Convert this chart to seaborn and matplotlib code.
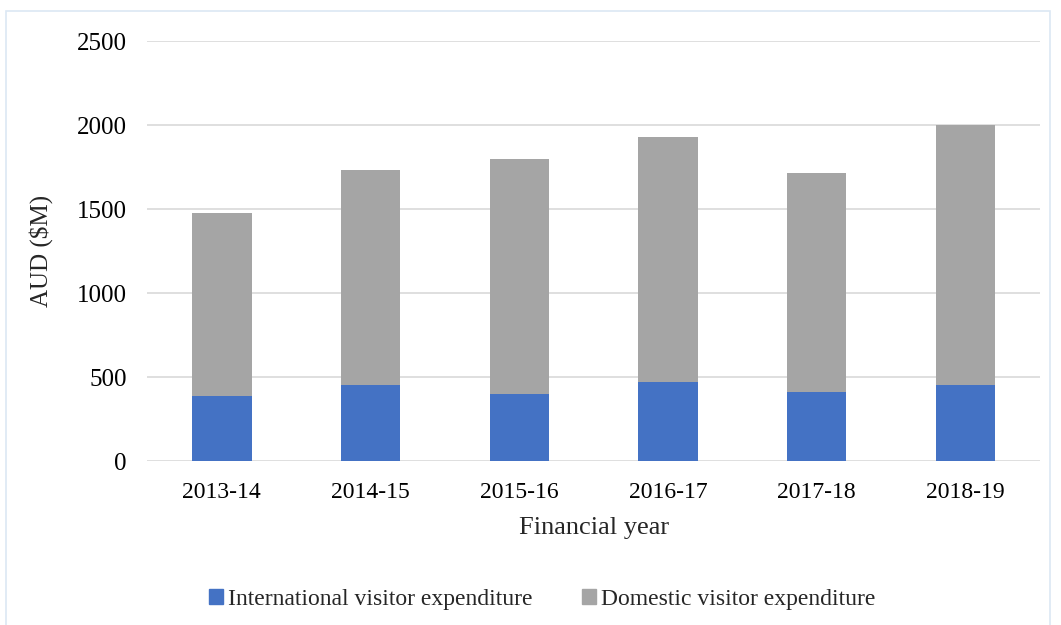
import pandas as pd
import matplotlib.pyplot as plt
import seaborn as sns
from matplotlib.patches import Rectangle, Patch

# data (AUD $M)
years = ["2013-14", "2014-15", "2015-16", "2016-17", "2017-18", "2018-19"]
international = [388, 452, 400, 470, 412, 452]
domestic = [1090, 1279, 1400, 1461, 1305, 1548]

df = pd.DataFrame({"year": years, "intl": international, "dom": domestic})
df["total"] = df["intl"] + df["dom"]

sns.set_style("white")
plt.rcParams["font.family"] = ["Liberation Serif", "DejaVu Serif"]

blue = "#4472C4"
grey = "#A5A5A5"

fig = plt.figure(figsize=(10.61, 6.25), dpi=100)
ax = fig.add_axes([0.139, 0.262, 0.841, 0.672])

# stacked bars: draw totals in grey, then international on top in blue
sns.barplot(data=df, x="year", y="total", color=grey, width=0.4, saturation=1,
            linewidth=0, ax=ax, zorder=2)
sns.barplot(data=df, x="year", y="intl", color=blue, width=0.4, saturation=1,
            linewidth=0, ax=ax, zorder=3)

ax.set_ylim(0, 2500)
ax.set_yticks(range(0, 2501, 500))
ax.set_xlim(-0.5, 5.5)
ax.grid(axis="y", color="#d9d9d9", linewidth=1.2, zorder=0)
ax.set_axisbelow(True)
sns.despine(ax=ax, left=True, bottom=True)
ax.tick_params(axis="y", length=0, labelsize=18, colors="black", pad=15)
ax.tick_params(axis="x", length=0, labelsize=17, colors="black", pad=15)
ax.set_xlabel("Financial year", fontsize=19, labelpad=10)
ax.set_ylabel("AUD ($M)", fontsize=18, labelpad=17)

handles = [Patch(color=blue), Patch(color=grey)]
fig.legend(handles, ["International visitor expenditure", "Domestic visitor expenditure"],
           loc="center", bbox_to_anchor=(0.511, 0.041), ncol=2, frameon=False,
           fontsize=17, handlelength=0.6, handleheight=0.6, handletextpad=0.2,
           columnspacing=2.1)

# light frame around the chart area
fig.patches.append(Rectangle((0.006, -0.1), 0.984, 1.082, transform=fig.transFigure,
                             fill=False, edgecolor="#dce8f4", linewidth=1.2))

fig.savefig("out.png", dpi=100)
